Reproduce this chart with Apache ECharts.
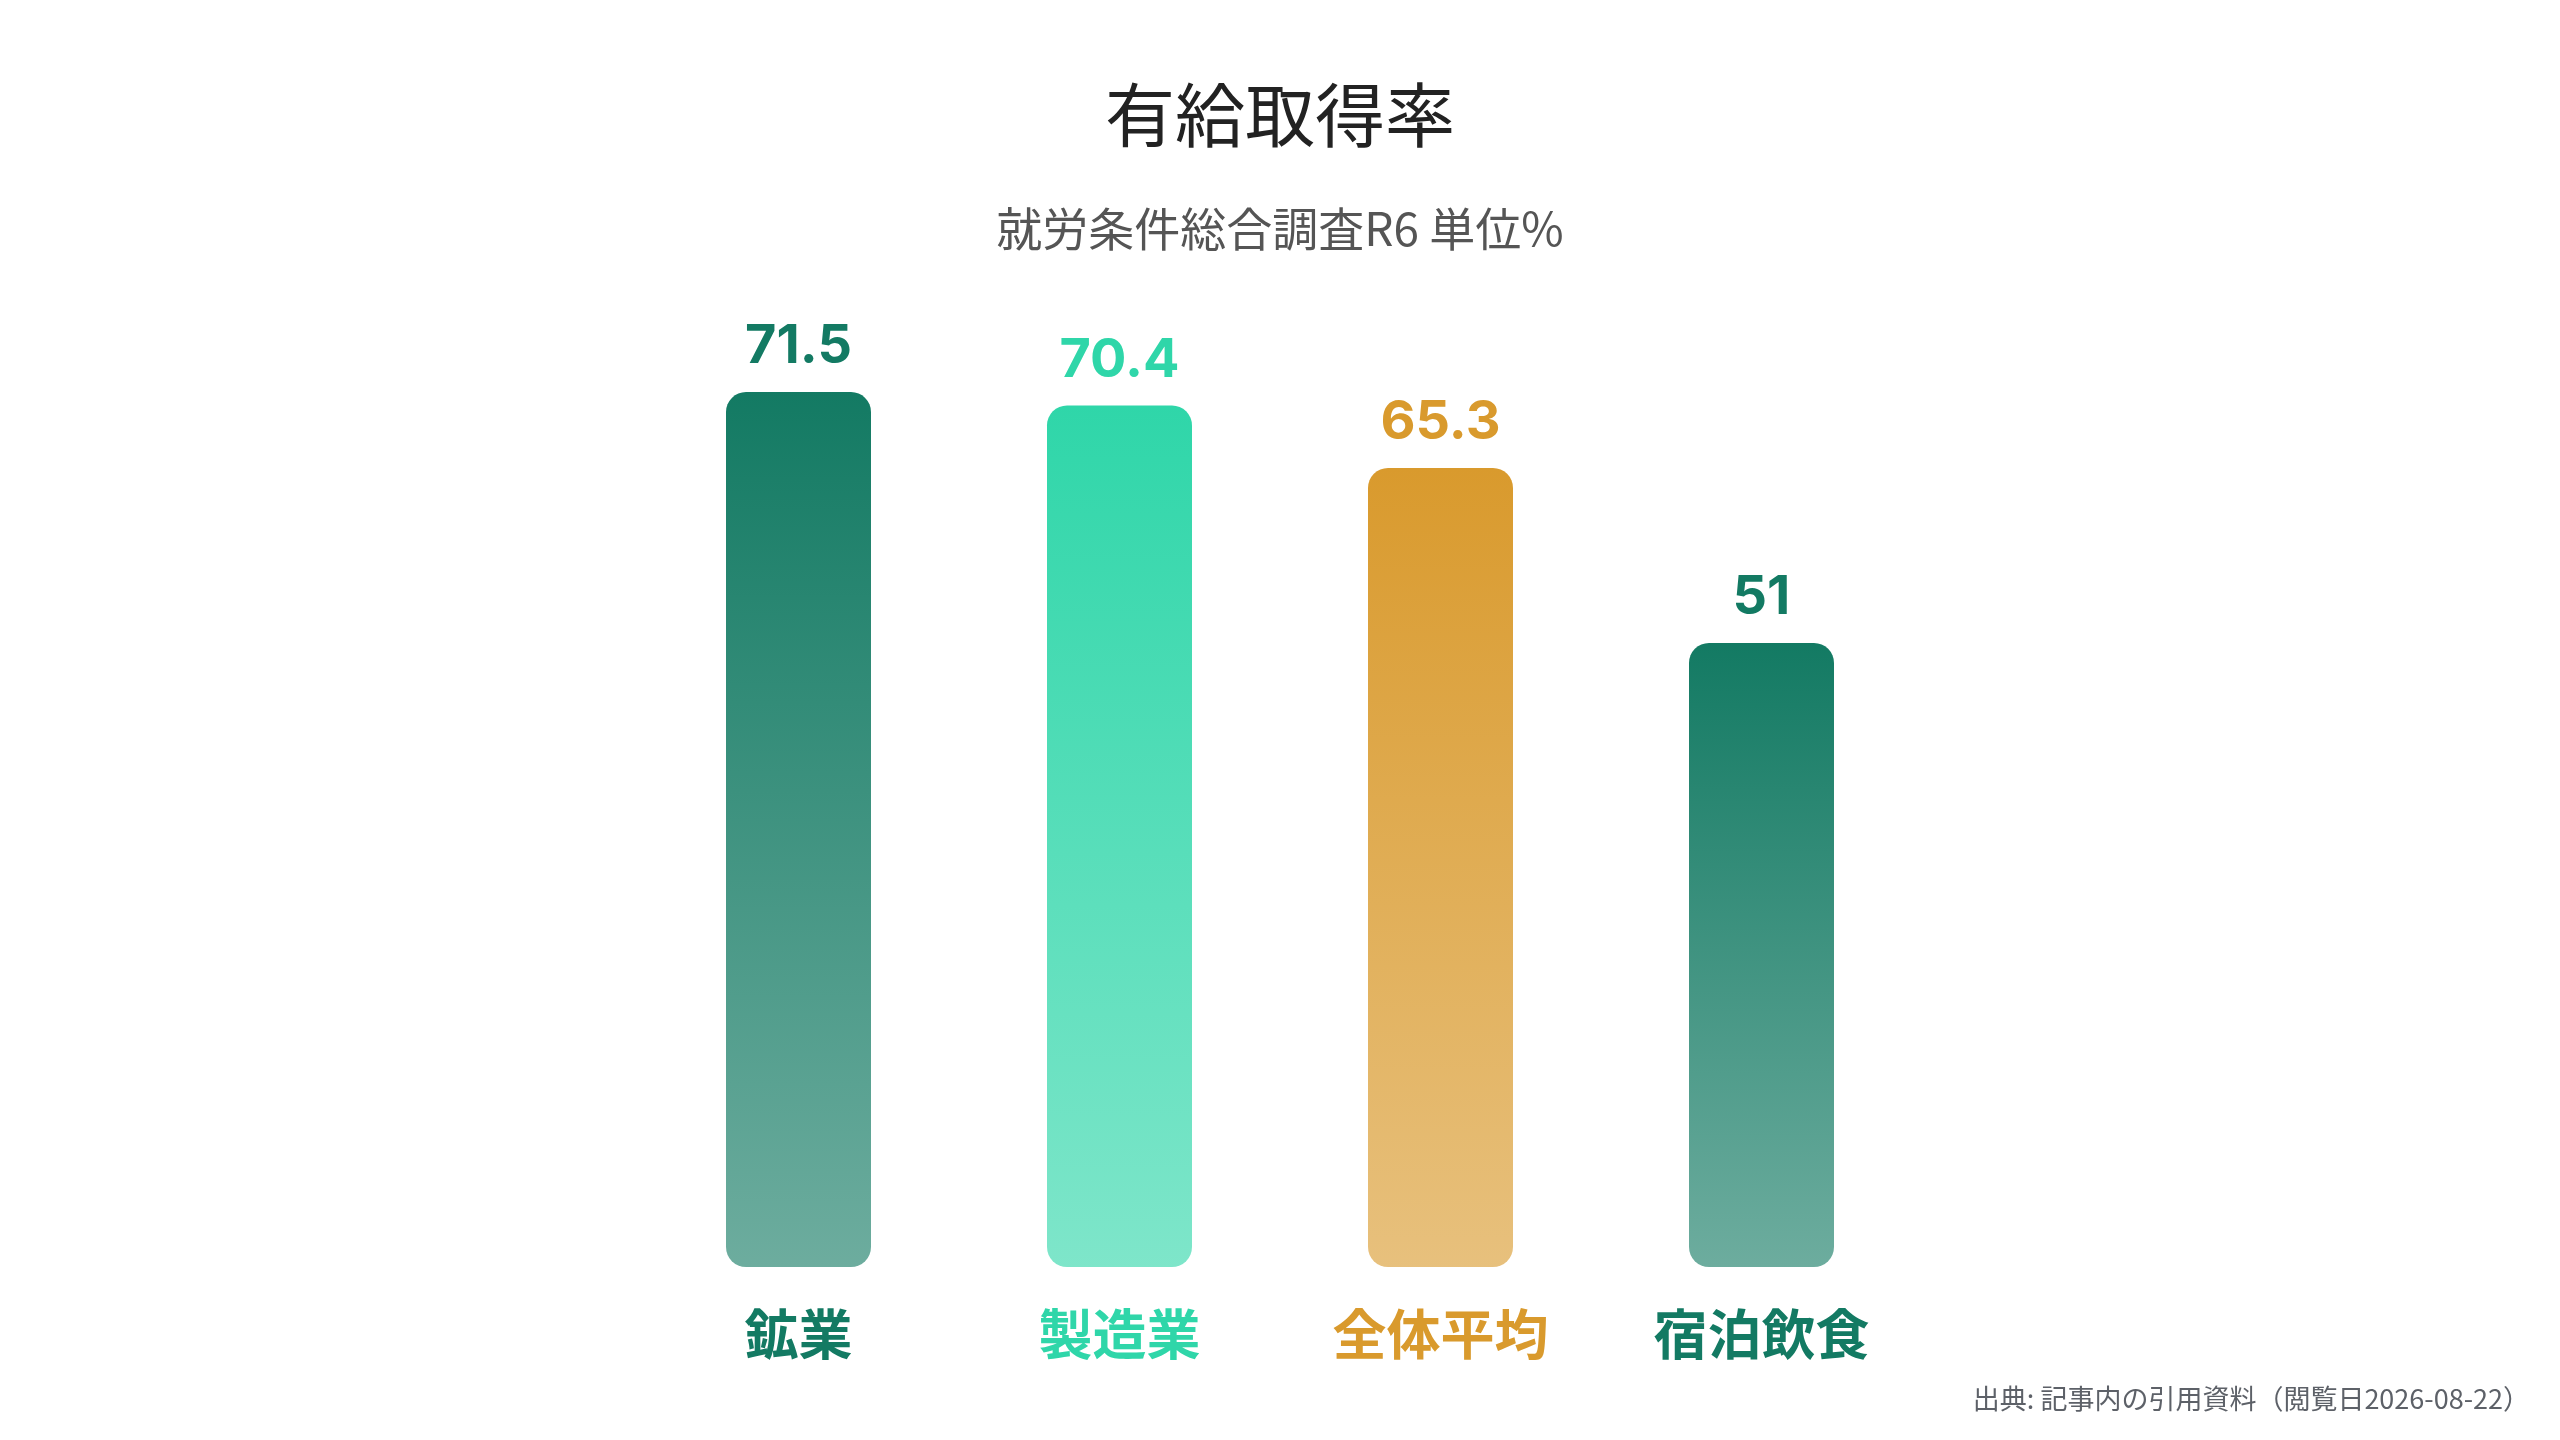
<!DOCTYPE html>
<html><head><meta charset="utf-8">
<script src="https://cdn.jsdelivr.net/npm/echarts@6/dist/echarts.min.js"></script>
<style>html,body{margin:0;padding:0;background:#fff}#c{width:2560px;height:1440px}</style>
</head><body><div id="c"></div>
<script>
const categories = ['鉱業', '製造業', '全体平均', '宿泊飲食'];
const values = [71.5, 70.4, 65.3, 51];
const topColors = ['#137a63', '#2fd6a9', '#d99a2d', '#137a63'];
const bottomColors = ['rgba(19,122,99,0.62)', 'rgba(47,214,169,0.62)', 'rgba(217,154,45,0.62)', 'rgba(19,122,99,0.62)'];
const titleText = '有給取得率';
const subtitleText = '就労条件総合調査R6 単位%';
const sourceText = '出典: 記事内の引用資料（閲覧日2026-08-22）';

const fontJP = '"Noto Sans CJK JP", sans-serif';
const chart = echarts.init(document.getElementById('c'));
chart.setOption({
  backgroundColor: '#ffffff',
  animation: false,
  title: {
    text: titleText,
    subtext: subtitleText,
    left: 'center',
    top: 70,
    itemGap: 48,
    textStyle: { fontFamily: fontJP, fontSize: 70, fontWeight: 'normal', color: '#222222', lineHeight: 80 },
    subtextStyle: { fontFamily: fontJP, fontSize: 46, color: '#555555', lineHeight: 52 }
  },
  grid: { left: 638, right: 638, top: 288, bottom: 173 },
  xAxis: {
    type: 'category',
    data: categories.map((c, i) => ({ value: c, textStyle: { color: topColors[i] } })),
    axisLine: { show: false },
    axisTick: { show: false },
    axisLabel: { fontFamily: fontJP, fontSize: 54, fontWeight: 'bold', margin: 40 }
  },
  yAxis: { type: 'value', min: 0, max: 80, show: false, splitLine: { show: false } },
  series: [{
    type: 'bar',
    barWidth: 145,
    data: values.map((v, i) => ({
      value: v,
      itemStyle: {
        borderRadius: 20,
        color: new echarts.graphic.LinearGradient(0, 0, 0, 1, [
          { offset: 0, color: topColors[i] },
          { offset: 1, color: bottomColors[i] }
        ])
      },
      label: { color: topColors[i] }
    })),
    label: {
      show: true,
      position: 'top',
      distance: 18,
      fontFamily: 'Inter, "Noto Sans CJK JP", sans-serif',
      fontSize: 54,
      fontWeight: 'bold'
    }
  }],
  graphic: [{
    type: 'text',
    right: 30,
    top: 1385,
    style: { text: sourceText, fontFamily: fontJP, fontSize: 27, fill: '#5d6168' }
  }]
});
</script></body></html>
